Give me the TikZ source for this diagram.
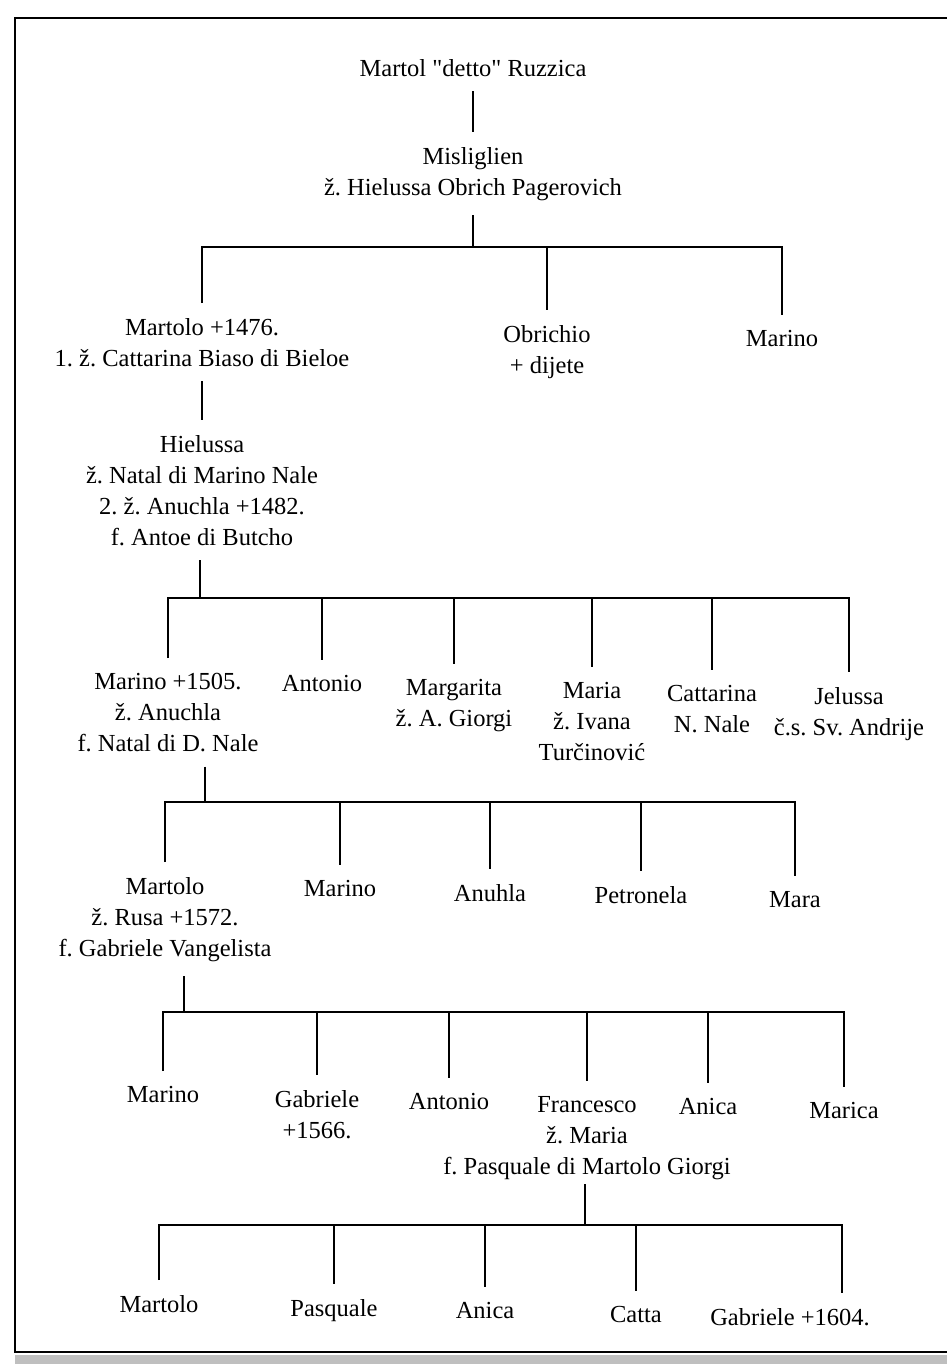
\documentclass[tikz,border=0pt]{standalone}
\usepackage{fontspec}
\setmainfont{Liberation Serif}[Ligatures=TeXOff]
\frenchspacing

\begin{document}
\begin{tikzpicture}[
        x=1pt, y=-1pt,
        font=\fontsize{24.5}{31}\selectfont,
        osoba/.style={align=center, anchor=north, inner sep=0pt, outer ysep=15pt},
        veza/.style={line width=1.2pt},
        okvir/.style={line width=1.3pt}
    ]
        \useasboundingbox (0,0) rectangle (947,1366);
        % --- Okvir stranice ---
        \draw[okvir] (947,18) -- (15,18) -- (15,1352) -- (947,1352);
        \fill[black!25] (15,1355) rectangle (947,1364);
        % --- Korijen ---
        \node[osoba] (rz) at (473,44) {Martol "detto" Ruzzica};
        \node[osoba] (ms) at (473,132) {Misliglien\\ž. Hielussa Obrich Pagerovich};
        % --- Djeca Misliglien ---
        \node[osoba] (mt1476) at (202,303) {Martolo +1476.\\1. ž. Cattarina Biaso di Bieloe};
        \node[osoba] (obr) at (547,310) {Obrichio\\+ dijete};
        \node[osoba] (mar1) at (782,315) {Marino};
        \node[osoba] (hie) at (202,420) {Hielussa\\ž. Natal di Marino Nale\\2. ž. Anuchla +1482.\\f. Antoe di Butcho};
        % --- Djeca Martolo +1476. ---
        \node[osoba] (mr1505) at (168,658) {Marino +1505.\\ž. Anuchla\\f. Natal di D. Nale};
        \node[osoba] (ant1) at (322,660) {Antonio};
        \node[osoba] (mgr) at (454,664) {Margarita\\ž. A. Giorgi};
        \node[osoba] (mria) at (592,667) {Maria\\ž. Ivana\\Turčinović};
        \node[osoba] (cat) at (712,670) {Cattarina\\N. Nale};
        \node[osoba] (jel) at (849,672) {Jelussa\\č.s. Sv. Andrije};
        % --- Djeca Marino +1505. ---
        \node[osoba] (mt1572) at (165,862) {Martolo\\ž. Rusa +1572.\\f. Gabriele Vangelista};
        \node[osoba] (mar2) at (340,865) {Marino};
        \node[osoba] (anh) at (490,869) {Anuhla};
        \node[osoba] (ptr) at (641,871) {Petronela};
        \node[osoba] (mara) at (795,876) {Mara};
        % --- Djeca Martolo (ž. Rusa) ---
        \node[osoba] (mar3) at (163,1071) {Marino};
        \node[osoba] (gab1566) at (317,1075) {Gabriele\\+1566.};
        \node[osoba] (ant2) at (449,1078) {Antonio};
        \node[osoba] (frc) at (587,1081) {Francesco\\ž. Maria\\f. Pasquale di Martolo Giorgi};
        \node[osoba] (anc1) at (708,1083) {Anica};
        \node[osoba] (mrc) at (844,1087) {Marica};
        % --- Djeca Francesco ---
        \node[osoba] (mt5) at (159,1280) {Martolo};
        \node[osoba] (psq) at (334,1284) {Pasquale};
        \node[osoba] (anc2) at (485,1287) {Anica};
        \node[osoba] (catt) at (636,1291) {Catta};
        \node[osoba] (gab1604) at (790,1293) {Gabriele +1604.};
        \coordinate (d1604) at (842,1293);

        % --- Čvorišta ---
        \coordinate (j1) at (473,247);
        \coordinate (j2) at (200,598);
        \coordinate (j3) at (205,802);
        \coordinate (j4) at (184,1012);
        \coordinate (j5) at (585,1225);

        % --- Linije ---
        \draw[veza] (rz) -- (ms);
        \draw[veza] (j1 |- ms.south) -- (j1);
        \draw[veza] (mt1476.north) |- (j1) -| (mar1.north)
            (obr.north |- j1) -- (obr.north);
        \draw[veza] (mt1476) -- (hie);
        \draw[veza] (j2 |- hie.south) -- (j2);
        \draw[veza] (mr1505.north) |- (j2) -| (jel.north)
            (ant1.north |- j2) -- (ant1.north)
            (mgr.north |- j2) -- (mgr.north)
            (mria.north |- j2) -- (mria.north)
            (cat.north |- j2) -- (cat.north);
        \draw[veza] (j3 |- mr1505.south) -- (j3);
        \draw[veza] (mt1572.north) |- (j3) -| (mara.north)
            (mar2.north |- j3) -- (mar2.north)
            (anh.north |- j3) -- (anh.north)
            (ptr.north |- j3) -- (ptr.north);
        \draw[veza] (j4 |- mt1572.south) -- (j4);
        \draw[veza] (mar3.north) |- (j4) -| (mrc.north)
            (gab1566.north |- j4) -- (gab1566.north)
            (ant2.north |- j4) -- (ant2.north)
            (frc.north |- j4) -- (frc.north)
            (anc1.north |- j4) -- (anc1.north);
        \draw[veza] ([yshift=10pt]frc.south -| j5) -- (j5);
        \draw[veza] (mt5.north) |- (j5) -| (d1604)
            (psq.north |- j5) -- (psq.north)
            (anc2.north |- j5) -- (anc2.north)
            (catt.north |- j5) -- (catt.north);
    \end{tikzpicture}
\end{document}
